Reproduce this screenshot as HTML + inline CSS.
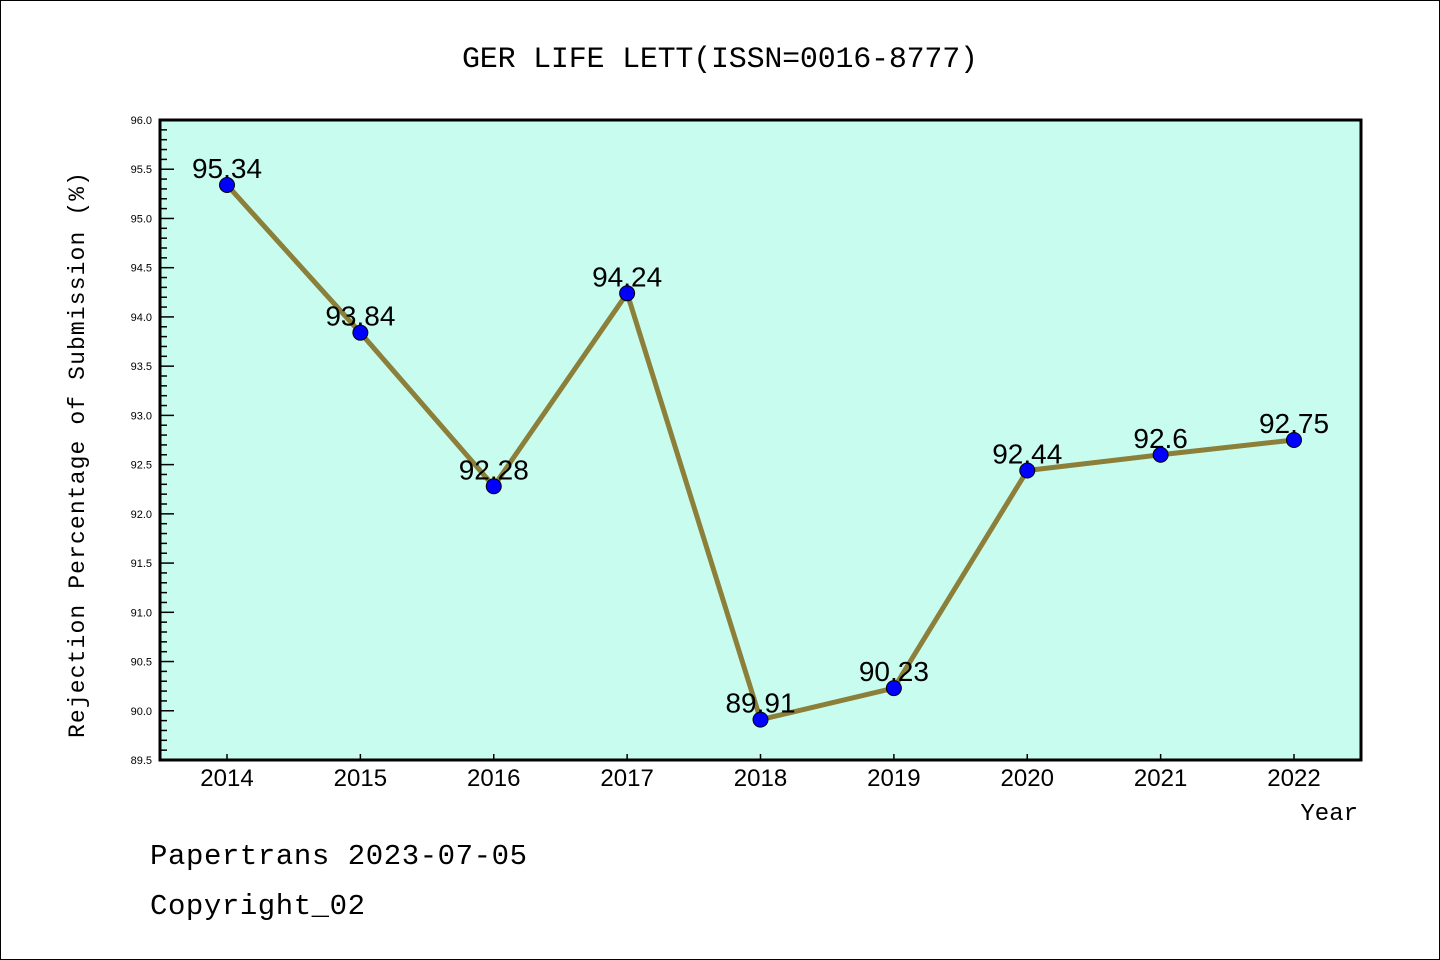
<!DOCTYPE html>
<html><head><meta charset="utf-8"><style>
html,body{margin:0;padding:0;background:#fff}
svg{display:block}
.mono{font-family:"Liberation Mono","DejaVu Sans Mono",monospace}
.sans{font-family:"Liberation Sans","DejaVu Sans",sans-serif}
</style></head><body>
<svg id="chart" width="1440" height="960" xmlns="http://www.w3.org/2000/svg">
<rect x="0.5" y="0.5" width="1439" height="959" fill="#fff" stroke="#000"/>
<text class="mono" x="720" y="67" font-size="30" text-anchor="middle" textLength="516">GER LIFE LETT(ISSN=0016-8777)</text>
<rect x="160" y="120" width="1201" height="640" fill="#c8fcee"/>
<g id="axes"></g>
<g id="series"></g>
<rect x="160" y="120" width="1201" height="640" fill="none" stroke="#000" stroke-width="3"/>
<text class="mono" transform="translate(84,455) rotate(-90)" font-size="23" text-anchor="middle" textLength="566">Rejection Percentage of Submission (%)</text>
<text class="mono" x="1358" y="820" font-size="24" text-anchor="end">Year</text>
<text class="mono" x="150" y="864" font-size="29" textLength="377">Papertrans 2023-07-05</text>
<text class="mono" x="150" y="914" font-size="29" textLength="215">Copyright_02</text>
</svg>
<script>
const years = ["2014","2015","2016","2017","2018","2019","2020","2021","2022"];
const rates = [95.34, 93.84, 92.28, 94.24, 89.91, 90.23, 92.44, 92.6, 92.75];
const valueLabels = ["95.34","93.84","92.28","94.24","89.91","90.23","92.44","92.6","92.75"];
const yTicks = ["89.5","90.0","90.5","91.0","91.5","92.0","92.5","93.0","93.5","94.0","94.5","95.0","95.5","96.0"];
const yMin = 89.5, yMax = 96.0;
const NS = "http://www.w3.org/2000/svg";
function xPos(i){ return 227 + i * (1294 - 227) / (years.length - 1); }
function yPos(v){ return 760 - (v - yMin) / (yMax - yMin) * 640; }
function mk(tag, attrs, parent){ const e = document.createElementNS(NS, tag); for (const k in attrs) e.setAttribute(k, attrs[k]); parent.appendChild(e); return e; }
const axes = document.getElementById('axes');
const series = document.getElementById('series');
for (let k = 0; k <= Math.round((yMax - yMin) * 10); k++) {
  const v = yMin + k / 10;
  const major = k % 5 === 0;
  const t = mk('line', {x1:160, x2:160 + (major ? 14 : 7), y1:yPos(v), y2:yPos(v), stroke:'#000', 'stroke-width':1.5}, axes);
  
  
}
yTicks.forEach(l => {
  const t = mk('text', {x:152, y:yPos(parseFloat(l)) + 4, 'font-size':11, 'text-anchor':'end', class:'sans'}, axes);
  t.textContent = l;
  
  
});
years.forEach((y, i) => {
  const tk = mk('line', {x1:xPos(i), x2:xPos(i), y1:760, y2:754, stroke:'#000', 'stroke-width':1.5}, axes);
  
  
  const t = mk('text', {x:xPos(i), y:786, 'font-size':24, 'text-anchor':'middle', class:'sans'}, axes);
  t.textContent = y;
  
  
});
const pts = rates.map((v, i) => xPos(i) + ',' + yPos(v)).join(' ');
const line = mk('polyline', {points:pts, fill:'none', stroke:'#8b7f3a', 'stroke-width':5, 'stroke-linejoin':'round'}, series);


rates.forEach((v, i) => {
  const c = mk('circle', {cx:xPos(i), cy:yPos(v), r:7.5, fill:'#0000ff', stroke:'#000', 'stroke-width':1}, series);
  
  
  const t = mk('text', {x:xPos(i), y:yPos(v) - 7, 'font-size':28, 'text-anchor':'middle', class:'sans'}, series);
  t.textContent = valueLabels[i];
  
  
});
</script>
</body></html>
